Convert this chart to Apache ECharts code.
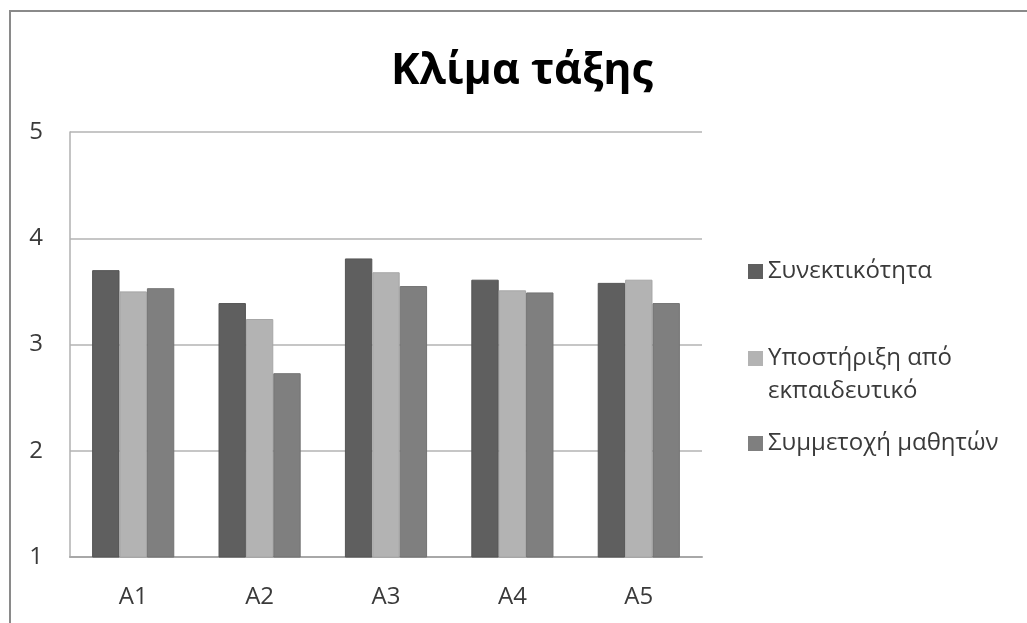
<!DOCTYPE html>
<html>
<head>
<meta charset="utf-8">
<title>Κλίμα τάξης</title>
<script src="https://cdn.jsdelivr.net/npm/echarts@6/dist/echarts.min.js"></script>
<style>
  html, body { margin: 0; padding: 0; background: #ffffff; }
  #chart { width: 1027px; height: 623px; }
</style>
</head>
<body>
<div id="chart"></div>
<script>
// Class groups and mean scores per dimension
var categories = ['A1', 'A2', 'A3', 'A4', 'A5'];
var cohesion = [3.70, 3.39, 3.81, 3.61, 3.58];       // Συνεκτικότητα
var teacherSupport = [3.50, 3.24, 3.68, 3.51, 3.61]; // Υποστήριξη από εκπαιδευτικό
var participation = [3.53, 2.73, 3.55, 3.49, 3.39];  // Συμμετοχή μαθητών
var seriesNames = ['Συνεκτικότητα', 'Υποστήριξη από\nεκπαιδευτικό', 'Συμμετοχή μαθητών'];
var yTicks = [1, 2, 3, 4, 5];

var FONT = '"Open Sans", "Noto Sans", sans-serif';
var TEXT = '#3a3a3a';

var chart = echarts.init(document.getElementById('chart'), null, { renderer: 'canvas' });

function bar(name, values, color, border) {
  return {
    name: name,
    type: 'bar',
    data: values,
    barGap: '0%',
    barCategoryGap: '35%',
    itemStyle: { color: color, borderColor: border, borderWidth: 1 },
    emphasis: { disabled: true }
  };
}

function legendAt(top, name, icon, h) {
  return {
    data: [{ name: name, icon: icon }],
    left: 748,
    top: top,
    padding: 0,
    orient: 'vertical',
    itemWidth: 15,
    itemHeight: h,
    selectedMode: false,
    itemStyle: { borderWidth: 0 },
    textStyle: { fontFamily: FONT, fontSize: 24, color: TEXT, lineHeight: 33 }
  };
}

chart.setOption({
  animation: false,
  backgroundColor: '#ffffff',
  color: ['#5f5f5f', '#b3b3b3', '#7f7f7f'],
  title: {
    text: 'Κλίμα τάξης',
    left: 517,
    top: 45,
    textAlign: 'center',
    textStyle: { fontFamily: FONT, fontSize: 43, fontWeight: 'bold', color: '#000000' }
  },
  graphic: [{
    type: 'rect',
    shape: { x: 10, y: 11, width: 1100, height: 700 },
    style: { fill: 'none', stroke: '#8a8a8a', lineWidth: 2 },
    silent: true,
    z: -10
  }],
  legend: [
    legendAt(255, seriesNames[0], 'rect', 15),
    legendAt(342, seriesNames[1], 'path://M0,0h15v15h-15z M0,48h15', 48),
    legendAt(427, seriesNames[2], 'rect', 15)
  ],
  grid: { left: 70, right: 325, top: 132, bottom: 66 },
  xAxis: {
    type: 'category',
    data: categories,
    axisLine: { lineStyle: { color: '#a8a8a8', width: 2 } },
    axisTick: { show: false },
    axisLabel: { margin: 28, fontFamily: FONT, fontSize: 24, color: TEXT }
  },
  yAxis: {
    type: 'value',
    min: yTicks[0],
    max: yTicks[yTicks.length - 1],
    interval: 1,
    axisLine: { show: true, lineStyle: { color: '#b0b0b0', width: 1.5 } },
    axisTick: { show: false },
    splitLine: { lineStyle: { color: '#b3b3b3', width: 1.5 } },
    axisLabel: { margin: 27, fontFamily: FONT, fontSize: 24, color: TEXT }
  },
  series: [
    bar(seriesNames[0], cohesion, '#5f5f5f', '#545454'),
    bar(seriesNames[1], teacherSupport, '#b3b3b3', '#a6a6a6'),
    bar(seriesNames[2], participation, '#7f7f7f', '#737373')
  ]
});
</script>
</body>
</html>
